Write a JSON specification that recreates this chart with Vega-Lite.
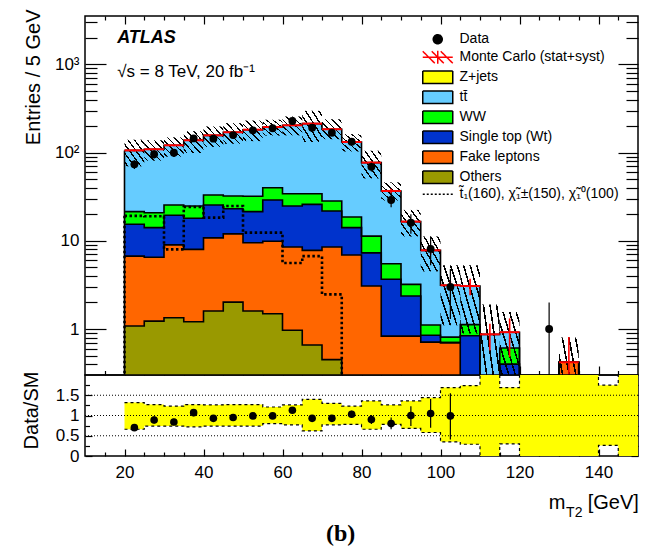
{
  "$schema": "https://vega.github.io/schema/vega-lite/v6.json",
  "padding": {"left": 20, "top": 8, "right": 5, "bottom": 5},
  "background": "white",
  "datasets": {
    "stack": [
      {"s":"tt","x":20,"v":106},{"s":"tt","x":25,"v":109},{"s":"tt","x":30,"v":121},{"s":"tt","x":35,"v":138},{"s":"tt","x":40,"v":157},{"s":"tt","x":45,"v":170},{"s":"tt","x":50,"v":182},{"s":"tt","x":55,"v":195},{"s":"tt","x":60,"v":204},{"s":"tt","x":65,"v":213},{"s":"tt","x":70,"v":184},{"s":"tt","x":75,"v":132},{"s":"tt","x":80,"v":77},{"s":"tt","x":85,"v":36.7},{"s":"tt","x":90,"v":16.5},{"s":"tt","x":95,"v":7.8},{"s":"tt","x":100,"v":3.13},{"s":"tt","x":105,"v":3.07},{"s":"tt","x":110,"v":0.87},{"s":"tt","x":115,"v":0.92},{"s":"tt","x":120,"v":0.01},{"s":"tt","x":130,"v":0.42},{"s":"tt","x":135,"v":0.01},
      {"s":"ww","x":20,"v":21.4},{"s":"ww","x":25,"v":20.8},{"s":"ww","x":30,"v":25.5},{"s":"ww","x":35,"v":24.8},{"s":"ww","x":40,"v":33.1},{"s":"ww","x":45,"v":32.2},{"s":"ww","x":50,"v":32.0},{"s":"ww","x":55,"v":40.0},{"s":"ww","x":60,"v":34.2},{"s":"ww","x":65,"v":34.2},{"s":"ww","x":70,"v":28.3},{"s":"ww","x":75,"v":18.6},{"s":"ww","x":80,"v":11.3},{"s":"ww","x":85,"v":5.5},{"s":"ww","x":90,"v":3.21},{"s":"ww","x":95,"v":1.11},{"s":"ww","x":100,"v":0.81},{"s":"ww","x":105,"v":1.12},{"s":"ww","x":110,"v":0.01},{"s":"ww","x":115,"v":0.61},{"s":"ww","x":120,"v":0.01},{"s":"ww","x":130,"v":0.42},{"s":"ww","x":135,"v":0.01},
      {"s":"st","x":20,"v":15.4},{"s":"st","x":25,"v":14.1},{"s":"st","x":30,"v":19.5},{"s":"st","x":35,"v":18.0},{"s":"st","x":40,"v":25.5},{"s":"st","x":45,"v":23.1},{"s":"st","x":50,"v":21.4},{"s":"st","x":55,"v":29.0},{"s":"st","x":60,"v":24.8},{"s":"st","x":65,"v":25.9},{"s":"st","x":70,"v":21.8},{"s":"st","x":75,"v":14.1},{"s":"st","x":80,"v":7.3},{"s":"st","x":85,"v":3.66},{"s":"st","x":90,"v":2.37},{"s":"st","x":95,"v":0.85},{"s":"st","x":100,"v":0.70},{"s":"st","x":105,"v":0.84},{"s":"st","x":110,"v":0.01},{"s":"st","x":115,"v":0.40},{"s":"st","x":120,"v":0.01},{"s":"st","x":130,"v":0.42},{"s":"st","x":135,"v":0.01},
      {"s":"fk","x":20,"v":6.7},{"s":"fk","x":25,"v":6.5},{"s":"fk","x":30,"v":9.0},{"s":"fk","x":35,"v":8.0},{"s":"fk","x":40,"v":10.8},{"s":"fk","x":45,"v":12.0},{"s":"fk","x":50,"v":9.5},{"s":"fk","x":55,"v":9.9},{"s":"fk","x":60,"v":8.5},{"s":"fk","x":65,"v":7.8},{"s":"fk","x":70,"v":8.5},{"s":"fk","x":75,"v":6.9},{"s":"fk","x":80,"v":3.07},{"s":"fk","x":85,"v":0.83},{"s":"fk","x":90,"v":0.83},{"s":"fk","x":95,"v":0.71},{"s":"fk","x":100,"v":0.70},{"s":"fk","x":105,"v":0.01},{"s":"fk","x":130,"v":0.42},{"s":"fk","x":135,"v":0.01},
      {"s":"ot","x":20,"v":1.08},{"s":"ot","x":25,"v":1.23},{"s":"ot","x":30,"v":1.34},{"s":"ot","x":35,"v":1.21},{"s":"ot","x":40,"v":1.60},{"s":"ot","x":45,"v":2.02},{"s":"ot","x":50,"v":1.60},{"s":"ot","x":55,"v":1.49},{"s":"ot","x":60,"v":0.97},{"s":"ot","x":65,"v":0.66},{"s":"ot","x":70,"v":0.45},{"s":"ot","x":75,"v":0.01}
    ],
    "sig": [
      {"x":20,"v":19.2},{"x":25,"v":19.0},{"x":30,"v":8.0},{"x":35,"v":24.2},{"x":40,"v":18.3},{"x":45,"v":24.8},{"x":50,"v":12.4},{"x":55,"v":12.4},{"x":60,"v":5.6},{"x":65,"v":6.7},{"x":70,"v":2.47},{"x":75,"v":0.01}
    ],
    "mc": [
      {"x":20,"x2":25,"c":22.5,"v":106,"lo":70,"hi":140,"elo":103,"ehi":109},
      {"x":25,"x2":30,"c":27.5,"v":109,"lo":81,"hi":138,"elo":106,"ehi":112},
      {"x":30,"x2":35,"c":32.5,"v":121,"lo":90,"hi":149,"elo":118,"ehi":124},
      {"x":35,"x2":40,"c":37.5,"v":138,"lo":99,"hi":175,"elo":135,"ehi":141},
      {"x":40,"x2":45,"c":42.5,"v":157,"lo":116,"hi":198,"elo":154,"ehi":160},
      {"x":45,"x2":50,"c":47.5,"v":170,"lo":126,"hi":216,"elo":167,"ehi":173},
      {"x":50,"x2":55,"c":52.5,"v":182,"lo":135,"hi":231,"elo":179,"ehi":185},
      {"x":55,"x2":60,"c":57.5,"v":195,"lo":156,"hi":236,"elo":192,"ehi":198},
      {"x":60,"x2":65,"c":62.5,"v":204,"lo":157,"hi":257,"elo":200,"ehi":208},
      {"x":65,"x2":70,"c":67.5,"v":213,"lo":132,"hi":298,"elo":209,"ehi":217},
      {"x":70,"x2":75,"c":72.5,"v":184,"lo":142,"hi":239,"elo":180,"ehi":188},
      {"x":75,"x2":80,"c":77.5,"v":132,"lo":103,"hi":162,"elo":128,"ehi":136},
      {"x":80,"x2":85,"c":82.5,"v":77,"lo":51,"hi":105,"elo":74,"ehi":80},
      {"x":85,"x2":90,"c":87.5,"v":36.7,"lo":28.6,"hi":46,"elo":34.5,"ehi":39},
      {"x":90,"x2":95,"c":92.5,"v":16.5,"lo":11.2,"hi":22.4,"elo":15.3,"ehi":17.7},
      {"x":95,"x2":100,"c":97.5,"v":7.8,"lo":4.5,"hi":11.2,"elo":7.0,"ehi":8.6},
      {"x":100,"x2":105,"c":102.5,"v":3.13,"lo":1.1,"hi":5.3,"elo":2.8,"ehi":3.5},
      {"x":105,"x2":110,"c":107.5,"v":3.07,"lo":0.89,"hi":5.3,"elo":2.41,"ehi":3.71},
      {"x":110,"x2":115,"c":112.5,"v":0.87,"lo":0.05,"hi":1.9,"elo":0.57,"ehi":1.15},
      {"x":115,"x2":120,"c":117.5,"v":0.92,"lo":0.28,"hi":1.56,"elo":0.48,"ehi":1.32},
      {"x":130,"x2":135,"c":132.5,"v":0.42,"lo":0.05,"hi":0.8,"elo":0.2,"ehi":0.81}
    ],
    "obs": [
      {"x":22.5,"n":73.6,"lo":65,"hi":82},{"x":27.5,"n":95.7,"lo":86,"hi":106},{"x":32.5,"n":99.8,"lo":90,"hi":110},{"x":37.5,"n":145,"lo":133,"hi":157},{"x":42.5,"n":144,"lo":132,"hi":156},{"x":47.5,"n":158,"lo":145,"hi":171},{"x":52.5,"n":179,"lo":166,"hi":192},{"x":57.5,"n":189,"lo":175,"hi":203},{"x":62.5,"n":228,"lo":213,"hi":243},{"x":67.5,"n":192,"lo":178,"hi":206},{"x":72.5,"n":168,"lo":155,"hi":181},{"x":77.5,"n":133,"lo":121,"hi":145},{"x":82.5,"n":69,"lo":61,"hi":77},{"x":87.5,"n":29,"lo":24,"hi":35},{"x":92.5,"n":16,"lo":12,"hi":20},{"x":97.5,"n":8.1,"lo":5.3,"hi":11.2},{"x":102.5,"n":3,"lo":1.3,"hi":4.8},{"x":127.5,"n":1,"lo":0.17,"hi":2.0}
    ],
    "band": [
      {"x":20,"hi":1.32,"lo":0.66},{"x":25,"hi":1.27,"lo":0.74},{"x":30,"hi":1.23,"lo":0.74},{"x":35,"hi":1.27,"lo":0.72},{"x":40,"hi":1.26,"lo":0.74},{"x":45,"hi":1.27,"lo":0.74},{"x":50,"hi":1.27,"lo":0.74},{"x":55,"hi":1.21,"lo":0.80},{"x":60,"hi":1.26,"lo":0.77},{"x":65,"hi":1.40,"lo":0.62},{"x":70,"hi":1.30,"lo":0.77},{"x":75,"hi":1.23,"lo":0.78},{"x":80,"hi":1.36,"lo":0.66},{"x":85,"hi":1.26,"lo":0.78},{"x":90,"hi":1.36,"lo":0.68},{"x":95,"hi":1.44,"lo":0.58},{"x":100,"hi":1.69,"lo":0.35},{"x":105,"hi":1.74,"lo":0.29},{"x":110,"hi":2.3,"lo":-0.3},{"x":115,"hi":1.69,"lo":0.30},{"x":120,"hi":2.3,"lo":-0.3},{"x":140,"hi":1.75,"lo":0.26},{"x":145,"hi":2.3,"lo":-0.3},{"x":150,"hi":2.3,"lo":-0.3}
    ],
    "ratio": [
      {"x":22.5,"r":0.70,"lo":0.62,"hi":0.78},{"x":27.5,"r":0.89,"lo":0.80,"hi":0.98},{"x":32.5,"r":0.84,"lo":0.76,"hi":0.92},{"x":37.5,"r":1.07,"lo":0.98,"hi":1.16},{"x":42.5,"r":0.93,"lo":0.85,"hi":1.01},{"x":47.5,"r":0.95,"lo":0.87,"hi":1.03},{"x":52.5,"r":0.99,"lo":0.92,"hi":1.06},{"x":57.5,"r":0.99,"lo":0.92,"hi":1.06},{"x":62.5,"r":1.13,"lo":1.06,"hi":1.20},{"x":67.5,"r":0.93,"lo":0.86,"hi":1.00},{"x":72.5,"r":0.93,"lo":0.86,"hi":1.00},{"x":77.5,"r":1.03,"lo":0.94,"hi":1.12},{"x":82.5,"r":0.90,"lo":0.79,"hi":1.01},{"x":87.5,"r":0.80,"lo":0.66,"hi":0.95},{"x":92.5,"r":1.00,"lo":0.74,"hi":1.23},{"x":97.5,"r":1.05,"lo":0.70,"hi":1.41},{"x":102.5,"r":0.99,"lo":0.41,"hi":1.55}
    ],
    "leg": [
      {"l":"Data"},{"l":"Monte Carlo (stat+syst)"},{"l":"Z+jets"},{"l":"tt̄"},{"l":"WW"},{"l":"Single top (Wt)"},{"l":"Fake leptons"},{"l":"Others"},{"l":"t̃₁(160), χ̃₁±(150), χ̃₁⁰(100)"}
    ],
    "grid": [{"g":0.5},{"g":1},{"g":1.5}]
  },
  "vconcat": [
    {
      "width": 553,
      "height": 359,
      "layer": [
        {
          "data": {"name": "stack"},
          "transform": [{"filter": "datum.s == 'tt'"}],
          "mark": {"type": "area", "interpolate": "step-after", "color": "#66ccff", "clip": true},
          "encoding": {
            "x": {"field": "x", "type": "quantitative", "scale": {"domain": [10, 150], "nice": false, "zero": false},
              "axis": {"orient": "bottom", "values": [15,20,25,30,35,40,45,50,55,60,65,70,75,80,85,90,95,100,105,110,115,120,125,130,135,140,145], "labels": false, "title": null,
                "tickSize": {"condition": {"test": "datum.value % 20 == 0", "value": -9}, "value": -4.5}}},
            "y": {"field": "v", "type": "quantitative", "scale": {"type": "log", "domain": [0.301, 3540], "nice": false},
              "axis": {"orient": "left", "values": [0.4,0.5,0.6,0.7,0.8,0.9,1,2,3,4,5,6,7,8,9,10,20,30,40,50,60,70,80,90,100,200,300,400,500,600,700,800,900,1000,2000,3000],
                "labelExpr": "datum.value == 1 ? '1' : datum.value == 10 ? '10' : datum.value == 100 ? '10²' : datum.value == 1000 ? '10³' : ''",
                "tickSize": {"condition": {"test": "datum.value == 1 || datum.value == 10 || datum.value == 100 || datum.value == 1000", "value": -21}, "value": -12},
                "labelPadding": 27,
                "title": "Entries / 5 GeV", "titleX": -46, "titleY": -7, "titleAlign": "right", "titleBaseline": "alphabetic", "titleAngle": 270}},
            "y2": {"datum": 0.01}
          }
        },
        {
          "data": {"name": "stack"},
          "transform": [{"filter": "datum.s == 'ww'"}],
          "mark": {"type": "area", "interpolate": "step-after", "color": "#00ff00", "clip": true},
          "encoding": {"x": {"field": "x", "type": "quantitative", "axis": null}, "y": {"field": "v", "type": "quantitative", "axis": null}, "y2": {"datum": 0.01}}
        },
        {
          "data": {"name": "stack"},
          "transform": [{"filter": "datum.s == 'st'"}],
          "mark": {"type": "area", "interpolate": "step-after", "color": "#0033cc", "clip": true},
          "encoding": {"x": {"field": "x", "type": "quantitative", "axis": null}, "y": {"field": "v", "type": "quantitative", "axis": null}, "y2": {"datum": 0.01}}
        },
        {
          "data": {"name": "stack"},
          "transform": [{"filter": "datum.s == 'fk'"}],
          "mark": {"type": "area", "interpolate": "step-after", "color": "#ff6600", "clip": true},
          "encoding": {"x": {"field": "x", "type": "quantitative", "axis": null}, "y": {"field": "v", "type": "quantitative", "axis": null}, "y2": {"datum": 0.01}}
        },
        {
          "data": {"name": "stack"},
          "transform": [{"filter": "datum.s == 'ot'"}],
          "mark": {"type": "area", "interpolate": "step-after", "color": "#999900", "clip": true},
          "encoding": {"x": {"field": "x", "type": "quantitative", "axis": null}, "y": {"field": "v", "type": "quantitative", "axis": null}, "y2": {"datum": 0.01}}
        },
        {
          "data": {"name": "stack"},
          "mark": {"type": "line", "interpolate": "step-after", "color": "#000000", "strokeWidth": 1.6, "clip": true},
          "encoding": {"x": {"field": "x", "type": "quantitative", "axis": null}, "y": {"field": "v", "type": "quantitative", "axis": null}, "detail": {"field": "s"}}
        },
        {
          "data": {"name": "stack"},
          "transform": [{"filter": "datum.s == 'tt' && datum.x == 20"}],
          "mark": {"type": "rule", "color": "#000000", "strokeWidth": 1.6, "clip": true},
          "encoding": {"x": {"field": "x", "type": "quantitative", "axis": null}, "y": {"field": "v", "type": "quantitative", "axis": null}, "y2": {"datum": 0.01}}
        },
        {
          "data": {"name": "sig"},
          "mark": {"type": "line", "interpolate": "step-after", "color": "#000000", "strokeWidth": 2.6, "strokeDash": [2.5, 2.5], "clip": true},
          "encoding": {"x": {"field": "x", "type": "quantitative", "axis": null}, "y": {"field": "v", "type": "quantitative", "axis": null}}
        },
        {
          "data": {"name": "sig"},
          "transform": [{"filter": "datum.x == 20"}],
          "mark": {"type": "rule", "color": "#000000", "strokeWidth": 2.6, "strokeDash": [2.5, 2.5], "clip": true},
          "encoding": {"x": {"field": "x", "type": "quantitative", "axis": null}, "y": {"field": "v", "type": "quantitative", "axis": null}, "y2": {"datum": 0.01}}
        },
        {
          "data": {"name": "mc"},
          "mark": {"type": "rect", "clip": true, "strokeWidth": 0,
            "fill": {"gradient": "linear", "x1": 0, "y1": 1, "x2": 1, "y2": 0, "stops": [
              {"offset": 0, "color": "rgba(0,0,0,0)"},
              {"offset": 0.063, "color": "rgba(0,0,0,0)"}, {"offset": 0.063, "color": "#000"}, {"offset": 0.103, "color": "#000"}, {"offset": 0.103, "color": "rgba(0,0,0,0)"},
              {"offset": 0.23, "color": "rgba(0,0,0,0)"}, {"offset": 0.23, "color": "#000"}, {"offset": 0.27, "color": "#000"}, {"offset": 0.27, "color": "rgba(0,0,0,0)"},
              {"offset": 0.397, "color": "rgba(0,0,0,0)"}, {"offset": 0.397, "color": "#000"}, {"offset": 0.437, "color": "#000"}, {"offset": 0.437, "color": "rgba(0,0,0,0)"},
              {"offset": 0.563, "color": "rgba(0,0,0,0)"}, {"offset": 0.563, "color": "#000"}, {"offset": 0.603, "color": "#000"}, {"offset": 0.603, "color": "rgba(0,0,0,0)"},
              {"offset": 0.73, "color": "rgba(0,0,0,0)"}, {"offset": 0.73, "color": "#000"}, {"offset": 0.77, "color": "#000"}, {"offset": 0.77, "color": "rgba(0,0,0,0)"},
              {"offset": 0.897, "color": "rgba(0,0,0,0)"}, {"offset": 0.897, "color": "#000"}, {"offset": 0.937, "color": "#000"}, {"offset": 0.937, "color": "rgba(0,0,0,0)"},
              {"offset": 1, "color": "rgba(0,0,0,0)"}]}},
          "encoding": {
            "x": {"field": "x", "type": "quantitative",
              "axis": {"orient": "top", "values": [15,20,25,30,35,40,45,50,55,60,65,70,75,80,85,90,95,100,105,110,115,120,125,130,135,140,145], "labels": false, "title": null,
                "tickSize": {"condition": {"test": "datum.value % 20 == 0", "value": -8}, "value": -4}}},
            "x2": {"field": "x2"},
            "y": {"field": "hi", "type": "quantitative",
              "axis": {"orient": "right", "values": [0.4,0.5,0.6,0.7,0.8,0.9,1,2,3,4,5,6,7,8,9,10,20,30,40,50,60,70,80,90,100,200,300,400,500,600,700,800,900,1000,2000,3000], "labels": false, "title": null,
                "tickSize": {"condition": {"test": "datum.value == 1 || datum.value == 10 || datum.value == 100 || datum.value == 1000", "value": -20}, "value": -12}}},
            "y2": {"field": "lo"}
          }
        },
        {
          "data": {"name": "mc"},
          "mark": {"type": "rule", "color": "#ff0000", "strokeWidth": 2, "clip": true},
          "encoding": {"x": {"field": "x", "type": "quantitative", "axis": null}, "x2": {"field": "x2"}, "y": {"field": "v", "type": "quantitative", "axis": null}}
        },
        {
          "data": {"name": "mc"},
          "mark": {"type": "rule", "color": "#ff0000", "strokeWidth": 1.6, "clip": true},
          "encoding": {"x": {"field": "c", "type": "quantitative", "axis": null}, "y": {"field": "elo", "type": "quantitative", "axis": null}, "y2": {"field": "ehi"}}
        },
        {
          "data": {"name": "obs"},
          "mark": {"type": "rule", "color": "#000000", "strokeWidth": 1.2, "clip": true},
          "encoding": {"x": {"field": "x", "type": "quantitative", "axis": null}, "y": {"field": "lo", "type": "quantitative", "axis": null}, "y2": {"field": "hi"}}
        },
        {
          "data": {"name": "obs"},
          "mark": {"type": "point", "filled": true, "color": "#000000", "opacity": 1, "size": 62, "shape": "circle", "clip": true},
          "encoding": {"x": {"field": "x", "type": "quantitative", "axis": null}, "y": {"field": "n", "type": "quantitative", "axis": null}}
        },
        {
          "data": {"name": "leg"},
          "mark": {"type": "point", "filled": false, "strokeWidth": 1.5, "opacity": 1, "clip": true},
          "encoding": {
            "x": {"datum": 0, "type": "quantitative", "axis": null},
            "y": {"datum": 0.001, "type": "quantitative", "axis": null},
            "shape": {"field": "l", "type": "nominal",
              "scale": {"domain": ["Data","Monte Carlo (stat+syst)","Z+jets","tt̄","WW","Single top (Wt)","Fake leptons","Others","t̃₁(160), χ̃₁±(150), χ̃₁⁰(100)"],
                "range": ["M-0.9,0A0.9,0.9,0,1,1,0.9,0A0.9,0.9,0,1,1,-0.9,0Z","M-3,0H3M0,-1.3V1.3M-3,-1.2L-0.6,1.2M-1.2,-1.2L1.2,1.2M0.6,-1.2L3,1.2","M-3,-1.25H3V1.25H-3Z","M-3,-1.25H3V1.25H-3Z","M-3,-1.25H3V1.25H-3Z","M-3,-1.25H3V1.25H-3Z","M-3,-1.25H3V1.25H-3Z","M-3,-1.25H3V1.25H-3Z","M-3,0H3"]},
              "legend": {"orient": "none", "legendX": 345.75, "legendY": 16.25, "title": null, "symbolSize": 100, "labelFontSize": 14, "labelFont": "Liberation Sans", "labelColor": "#000", "labelOffset": 14.75, "rowPadding": 0, "padding": 0, "symbolStrokeWidth": 1.5, "labelLimit": 300}},
            "fill": {"field": "l", "type": "nominal",
              "scale": {"domain": ["Data","Monte Carlo (stat+syst)","Z+jets","tt̄","WW","Single top (Wt)","Fake leptons","Others","t̃₁(160), χ̃₁±(150), χ̃₁⁰(100)"],
                "range": ["#000000","transparent","#ffff00","#66ccff","#00ff00","#0033cc","#ff6600","#999900","transparent"]},
              "legend": {"orient": "none", "legendX": 345.75, "legendY": 16.25, "title": null, "symbolSize": 100, "labelFontSize": 14, "labelFont": "Liberation Sans", "labelColor": "#000", "labelOffset": 14.75, "rowPadding": 0, "padding": 0, "symbolStrokeWidth": 1.5, "labelLimit": 300}},
            "stroke": {"field": "l", "type": "nominal",
              "scale": {"domain": ["Data","Monte Carlo (stat+syst)","Z+jets","tt̄","WW","Single top (Wt)","Fake leptons","Others","t̃₁(160), χ̃₁±(150), χ̃₁⁰(100)"],
                "range": ["#000000","#ff0000","#000000","#000000","#000000","#000000","#000000","#000000","#000000"]},
              "legend": {"orient": "none", "legendX": 345.75, "legendY": 16.25, "title": null, "symbolSize": 100, "labelFontSize": 14, "labelFont": "Liberation Sans", "labelColor": "#000", "labelOffset": 14.75, "rowPadding": 0, "padding": 0, "symbolStrokeWidth": 1.5, "labelLimit": 300}},
            "strokeDash": {"field": "l", "type": "nominal",
              "scale": {"domain": ["Data","Monte Carlo (stat+syst)","Z+jets","tt̄","WW","Single top (Wt)","Fake leptons","Others","t̃₁(160), χ̃₁±(150), χ̃₁⁰(100)"],
                "range": [[1,0],[1,0],[1,0],[1,0],[1,0],[1,0],[1,0],[1,0],[2,2]]},
              "legend": {"orient": "none", "legendX": 345.75, "legendY": 16.25, "title": null, "symbolSize": 100, "labelFontSize": 14, "labelFont": "Liberation Sans", "labelColor": "#000", "labelOffset": 14.75, "rowPadding": 0, "padding": 0, "symbolStrokeWidth": 1.5, "labelLimit": 300}}
          }
        },
        {
          "data": {"values": [{}]},
          "mark": {"type": "text", "text": "ATLAS", "font": "Liberation Sans", "fontSize": 18, "fontStyle": "italic", "fontWeight": "bold", "align": "left", "baseline": "alphabetic", "color": "#000"},
          "encoding": {"x": {"datum": 18.15, "type": "quantitative", "axis": null}, "y": {"datum": 1750, "type": "quantitative", "axis": null}}
        },
        {
          "data": {"values": [{}]},
          "mark": {"type": "text", "text": "√s = 8 TeV, 20 fb⁻¹", "font": "Liberation Sans", "fontSize": 17, "align": "left", "baseline": "alphabetic", "color": "#000"},
          "encoding": {"x": {"datum": 18.15, "type": "quantitative", "axis": null}, "y": {"datum": 719, "type": "quantitative", "axis": null}}
        }
      ],
      "resolve": {"axis": {"x": "independent", "y": "independent"}}
    },
    {
      "width": 553,
      "height": 81,
      "layer": [
        {
          "data": {"name": "band"},
          "mark": {"type": "area", "interpolate": "step-after", "color": "#ffff00", "clip": true},
          "encoding": {
            "x": {"field": "x", "type": "quantitative", "scale": {"domain": [10, 150], "nice": false, "zero": false},
              "axis": {"orient": "bottom", "values": [15,20,25,30,35,40,45,50,55,60,65,70,75,80,85,90,95,100,105,110,115,120,125,130,135,140,145],
                "labelExpr": "datum.value % 20 == 0 ? format(datum.value, 'd') : ''", "title": null, "labelPadding": 15,
                "tickSize": {"condition": {"test": "datum.value % 20 == 0", "value": -7}, "value": -4}}},
            "y": {"field": "hi", "type": "quantitative", "scale": {"domain": [0, 2], "nice": false, "zero": false},
              "axis": {"orient": "left", "values": [0,0.25,0.5,0.75,1,1.25,1.5,1.75],
                "labelExpr": "datum.value == 0 ? '0' : datum.value == 0.5 ? '0.5' : datum.value == 1 ? '1' : datum.value == 1.5 ? '1.5' : ''",
                "tickSize": {"condition": {"test": "datum.value == 0 || datum.value == 0.5 || datum.value == 1 || datum.value == 1.5", "value": -7}, "value": -4.5},
                "labelPadding": 13,
                "title": "Data/SM", "titleX": -47.5, "titleY": 35, "titleAlign": "center", "titleBaseline": "alphabetic", "titleAngle": 270}},
            "y2": {"field": "lo"}
          }
        },
        {
          "data": {"name": "band"},
          "mark": {"type": "line", "interpolate": "step-after", "color": "#000000", "strokeWidth": 1.2, "strokeDash": [3, 3], "clip": true},
          "encoding": {"x": {"field": "x", "type": "quantitative", "axis": null}, "y": {"field": "hi", "type": "quantitative", "axis": null}}
        },
        {
          "data": {"name": "band"},
          "mark": {"type": "line", "interpolate": "step-after", "color": "#000000", "strokeWidth": 1.2, "strokeDash": [3, 3], "clip": true},
          "encoding": {"x": {"field": "x", "type": "quantitative", "axis": null}, "y": {"field": "lo", "type": "quantitative", "axis": null}}
        },
        {
          "data": {"name": "grid"},
          "mark": {"type": "rule", "color": "#000000", "strokeWidth": 1, "strokeDash": [1, 2]},
          "encoding": {
            "y": {"field": "g", "type": "quantitative",
              "axis": {"orient": "right", "values": [0,0.25,0.5,0.75,1,1.25,1.5,1.75], "labels": false, "title": null,
                "tickSize": {"condition": {"test": "datum.value == 0 || datum.value == 0.5 || datum.value == 1 || datum.value == 1.5", "value": -7}, "value": -4.5}}}
          }
        },
        {
          "data": {"name": "ratio"},
          "mark": {"type": "rule", "color": "#000000", "strokeWidth": 1.2, "clip": true},
          "encoding": {"x": {"field": "x", "type": "quantitative", "axis": null}, "y": {"field": "lo", "type": "quantitative", "axis": null}, "y2": {"field": "hi"}}
        },
        {
          "data": {"name": "ratio"},
          "mark": {"type": "point", "filled": true, "color": "#000000", "opacity": 1, "size": 58, "shape": "circle", "clip": true},
          "encoding": {"x": {"field": "x", "type": "quantitative", "axis": null}, "y": {"field": "r", "type": "quantitative", "axis": null}}
        },
        {
          "data": {"values": [{}]},
          "mark": {"type": "text", "text": "m", "font": "Liberation Sans", "fontSize": 20, "align": "right", "baseline": "alphabetic", "color": "#000"},
          "encoding": {"x": {"datum": 131.6, "type": "quantitative", "axis": null}, "y": {"datum": -1.31, "type": "quantitative", "axis": null}}
        },
        {
          "data": {"values": [{}]},
          "mark": {"type": "text", "text": "T2", "font": "Liberation Sans", "fontSize": 14, "align": "left", "baseline": "alphabetic", "color": "#000"},
          "encoding": {"x": {"datum": 131.8, "type": "quantitative", "axis": null}, "y": {"datum": -1.5, "type": "quantitative", "axis": null}}
        },
        {
          "data": {"values": [{}]},
          "mark": {"type": "text", "text": "[GeV]", "font": "Liberation Sans", "fontSize": 20, "align": "right", "baseline": "alphabetic", "color": "#000"},
          "encoding": {"x": {"datum": 150.2, "type": "quantitative", "axis": null}, "y": {"datum": -1.31, "type": "quantitative", "axis": null}}
        },
        {
          "data": {"values": [{}]},
          "mark": {"type": "text", "text": "(b)", "font": "Liberation Serif", "fontSize": 24, "fontWeight": "bold", "align": "center", "baseline": "alphabetic", "color": "#000"},
          "encoding": {"x": {"datum": 74.7, "type": "quantitative", "axis": null}, "y": {"datum": -2.09, "type": "quantitative", "axis": null}}
        }
      ],
      "resolve": {"axis": {"x": "independent", "y": "independent"}}
    }
  ],
  "spacing": 0,
  "bounds": "flush",
  "config": {
    "view": {"stroke": "#000000", "strokeWidth": 1.5},
    "axis": {"domain": false, "grid": false, "labelFont": "Liberation Sans", "labelFontSize": 17, "labelColor": "#000000", "tickColor": "#000000", "tickWidth": 1.2, "titleFont": "Liberation Sans", "titleFontSize": 20, "titleFontWeight": "normal", "titleColor": "#000000"},
    "text": {"font": "Liberation Sans"}
  }
}
